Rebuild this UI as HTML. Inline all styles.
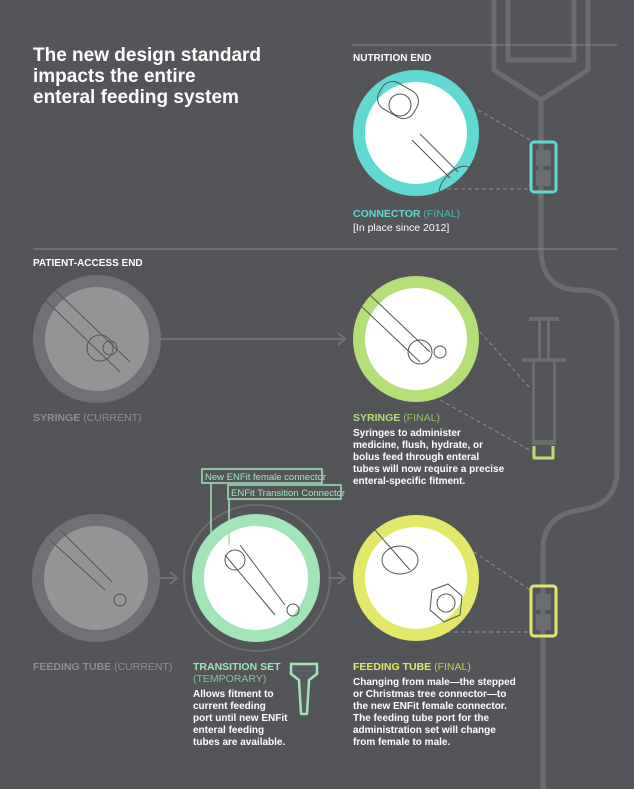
<!DOCTYPE html>
<html><head><meta charset="utf-8"><style>
body{margin:0;background:#545559;}
svg{display:block}
text{font-family:"Liberation Sans",sans-serif;}
</style></head><body>
<svg width="634" height="789" viewBox="0 0 634 789" xmlns="http://www.w3.org/2000/svg">
<rect width="634" height="789" fill="#545559"/>
<g fill="none" stroke="#6c6d71" stroke-width="5" stroke-linejoin="round">
<path d="M494 0 V70 L541 100 L588 70 V0"/>
<path d="M508 0 V60 H574 V0"/>
<path d="M541 100 V248 Q541 290 580 290 Q617 290 617 330 V470 Q617 505 580 510 Q543 515 543 550 V789"/>
</g>
<line x1="352" y1="45" x2="617" y2="45" stroke="#8a8b8e" stroke-width="1"/>
<line x1="33" y1="249" x2="617" y2="249" stroke="#8a8b8e" stroke-width="1"/>
<g fill="#fff" font-weight="bold" font-size="19">
<text x="33" y="61">The new design standard</text>
<text x="33" y="82">impacts the entire</text>
<text x="33" y="103">enteral feeding system</text>
</g>
<text x="353" y="61" fill="#fff" font-weight="bold" font-size="10">NUTRITION END</text>
<text x="33" y="266" fill="#fff" font-weight="bold" font-size="10">PATIENT-ACCESS END</text>
<g stroke="#85868a" stroke-width="1.2" stroke-dasharray="4,3" fill="none">
<line x1="478" y1="110" x2="530" y2="140"/>
<line x1="440" y1="189" x2="530" y2="189"/>
<line x1="480" y1="332" x2="530" y2="388"/>
<line x1="440" y1="400" x2="533" y2="452"/>
<line x1="474" y1="552" x2="530" y2="590"/>
<line x1="440" y1="632" x2="530" y2="632"/>
</g>
<circle cx="416" cy="133" r="57" fill="#fff" stroke="#5fd9d1" stroke-width="12"/>
<g fill="none" stroke="#555" stroke-width="1">
<rect x="378" y="85" width="40" height="30" rx="12" transform="rotate(30 398 100)"/>
<circle cx="400" cy="105" r="11"/>
<path d="M412 140 L450 178 M420 134 L458 172"/>
<ellipse cx="455" cy="182" rx="20" ry="10" transform="rotate(-45 455 182)"/>
</g>
<rect x="531" y="142" width="25" height="50" rx="3" fill="none" stroke="#5fd9d1" stroke-width="3"/>
<rect x="536" y="150" width="15" height="16" fill="#6c6d71"/><rect x="536" y="170" width="15" height="16" fill="#6c6d71"/>
<text x="353" y="217" font-size="10.5" font-weight="bold" fill="#5fd9d1">CONNECTOR <tspan font-weight="normal" fill="#4eb8b1">(FINAL)</tspan></text>
<text x="353" y="231" font-size="10.5" fill="#fff">[In place since 2012]</text>
<circle cx="97" cy="339" r="58" fill="#959597" stroke="#707175" stroke-width="12"/>
<g fill="none" stroke="#555" stroke-width="1">
<path d="M55 290 L130 362 M45 300 L120 372"/><circle cx="100" cy="348" r="13"/><circle cx="110" cy="348" r="7"/>
</g>
<line x1="160" y1="339" x2="344" y2="339" stroke="#707175" stroke-width="2"/>
<path d="M338 333 L345 339 L338 345" fill="none" stroke="#707175" stroke-width="2"/>
<text x="33" y="421" font-size="10.5" font-weight="bold" fill="#8e8f92">SYRINGE <tspan font-weight="normal">(CURRENT)</tspan></text>
<circle cx="416" cy="339" r="57" fill="#fff" stroke="#b6de77" stroke-width="12"/>
<g fill="none" stroke="#555" stroke-width="1">
<path d="M370 295 L430 352 M360 305 L420 362"/><circle cx="420" cy="352" r="12"/><circle cx="440" cy="352" r="6"/>
</g>
<text x="353" y="421" font-size="10.5" font-weight="bold" fill="#b6de77">SYRINGE <tspan font-weight="normal" fill="#9cbf66">(FINAL)</tspan></text>
<g fill="#fff" font-weight="bold" font-size="10">
<text x="353" y="436">Syringes to administer</text>
<text x="353" y="448">medicine, flush, hydrate, or</text>
<text x="353" y="460">bolus feed through enteral</text>
<text x="353" y="472">tubes will now require a precise</text>
<text x="353" y="484">enteral-specific fitment.</text>
</g>
<g fill="#6c6d71">
<rect x="529" y="317" width="30" height="4"/><rect x="538" y="321" width="3" height="37"/><rect x="547" y="321" width="3" height="37"/>
<rect x="522" y="358" width="44" height="4"/>
<rect x="532" y="362" width="3" height="83"/><rect x="553" y="362" width="3" height="83"/><rect x="532" y="440" width="24" height="5"/>
</g>
<path d="M534 446 V458 H553 V446" fill="none" stroke="#b6de77" stroke-width="3" stroke-linejoin="round"/>
<circle cx="96" cy="578" r="58" fill="#959597" stroke="#707175" stroke-width="12"/>
<g fill="none" stroke="#555" stroke-width="1">
<path d="M50 540 L105 590 M60 530 L112 582"/><circle cx="120" cy="600" r="6"/>
</g>
<path d="M160 578 H176 M170 572 L177 578 L170 584" fill="none" stroke="#707175" stroke-width="2"/>
<text x="33" y="670" font-size="10.5" font-weight="bold" fill="#8e8f92">FEEDING TUBE <tspan font-weight="normal">(CURRENT)</tspan></text>
<circle cx="257" cy="578" r="73" fill="none" stroke="#6c6d71" stroke-width="2"/>
<circle cx="256" cy="578" r="58" fill="#fff" stroke="#a0e4b8" stroke-width="12"/>
<g fill="none" stroke="#555" stroke-width="1">
<path d="M225 555 L275 615 M240 545 L285 605"/><circle cx="235" cy="560" r="10"/><circle cx="293" cy="610" r="6"/>
</g>
<path d="M211 482 V540 M229 498 V545" stroke="#a0e4b8" stroke-width="1.5"/>
<rect x="202" y="469" width="120" height="14" fill="#545559" stroke="#a0e4b8" stroke-width="1.5"/>
<text x="205" y="480" font-size="9.5" fill="#a0e4b8">New ENFit female connector</text>
<rect x="228" y="485" width="113" height="14" fill="#545559" stroke="#a0e4b8" stroke-width="1.5"/>
<text x="231" y="496" font-size="9.5" fill="#a0e4b8">ENFit Transition Connector</text>
<path d="M328 578 H344 M338 572 L345 578 L338 584" fill="none" stroke="#707175" stroke-width="2"/>
<text x="193" y="670" font-size="10.5" font-weight="bold" fill="#a0e4b8">TRANSITION SET</text>
<text x="193" y="682" font-size="10.5" fill="#83c49a">(TEMPORARY)</text>
<g fill="#fff" font-weight="bold" font-size="10">
<text x="193" y="697">Allows fitment to</text>
<text x="193" y="709">current feeding</text>
<text x="193" y="721">port until new ENFit</text>
<text x="193" y="733">enteral feeding</text>
<text x="193" y="745">tubes are available.</text>
</g>
<path d="M291 664 H317 V674 L309 680 L307 714 H301 L299 680 L291 674 Z" fill="#5a5b5f" stroke="#a0e4b8" stroke-width="2.5" stroke-linejoin="round"/>
<circle cx="416" cy="578" r="57" fill="#fff" stroke="#e3e86a" stroke-width="12"/>
<g fill="none" stroke="#555" stroke-width="1">
<path d="M375 530 L410 570"/><ellipse cx="400" cy="560" rx="18" ry="14"/>
<polygon points="432,590 448,584 462,596 460,615 444,622 430,610"/><circle cx="446" cy="603" r="9"/>
</g>
<rect x="531" y="586" width="25" height="50" rx="3" fill="none" stroke="#e3e86a" stroke-width="3"/>
<rect x="536" y="594" width="15" height="16" fill="#6c6d71"/><rect x="536" y="614" width="15" height="16" fill="#6c6d71"/>
<text x="353" y="670" font-size="10.5" font-weight="bold" fill="#e3e86a">FEEDING TUBE <tspan font-weight="normal" fill="#c5ca5c">(FINAL)</tspan></text>
<g fill="#fff" font-weight="bold" font-size="10">
<text x="353" y="685">Changing from male—the stepped</text>
<text x="353" y="697">or Christmas tree connector—to</text>
<text x="353" y="709">the new ENFit female connector.</text>
<text x="353" y="721">The feeding tube port for the</text>
<text x="353" y="733">administration set will change</text>
<text x="353" y="745">from female to male.</text>
</g>
</svg>
</body></html>
